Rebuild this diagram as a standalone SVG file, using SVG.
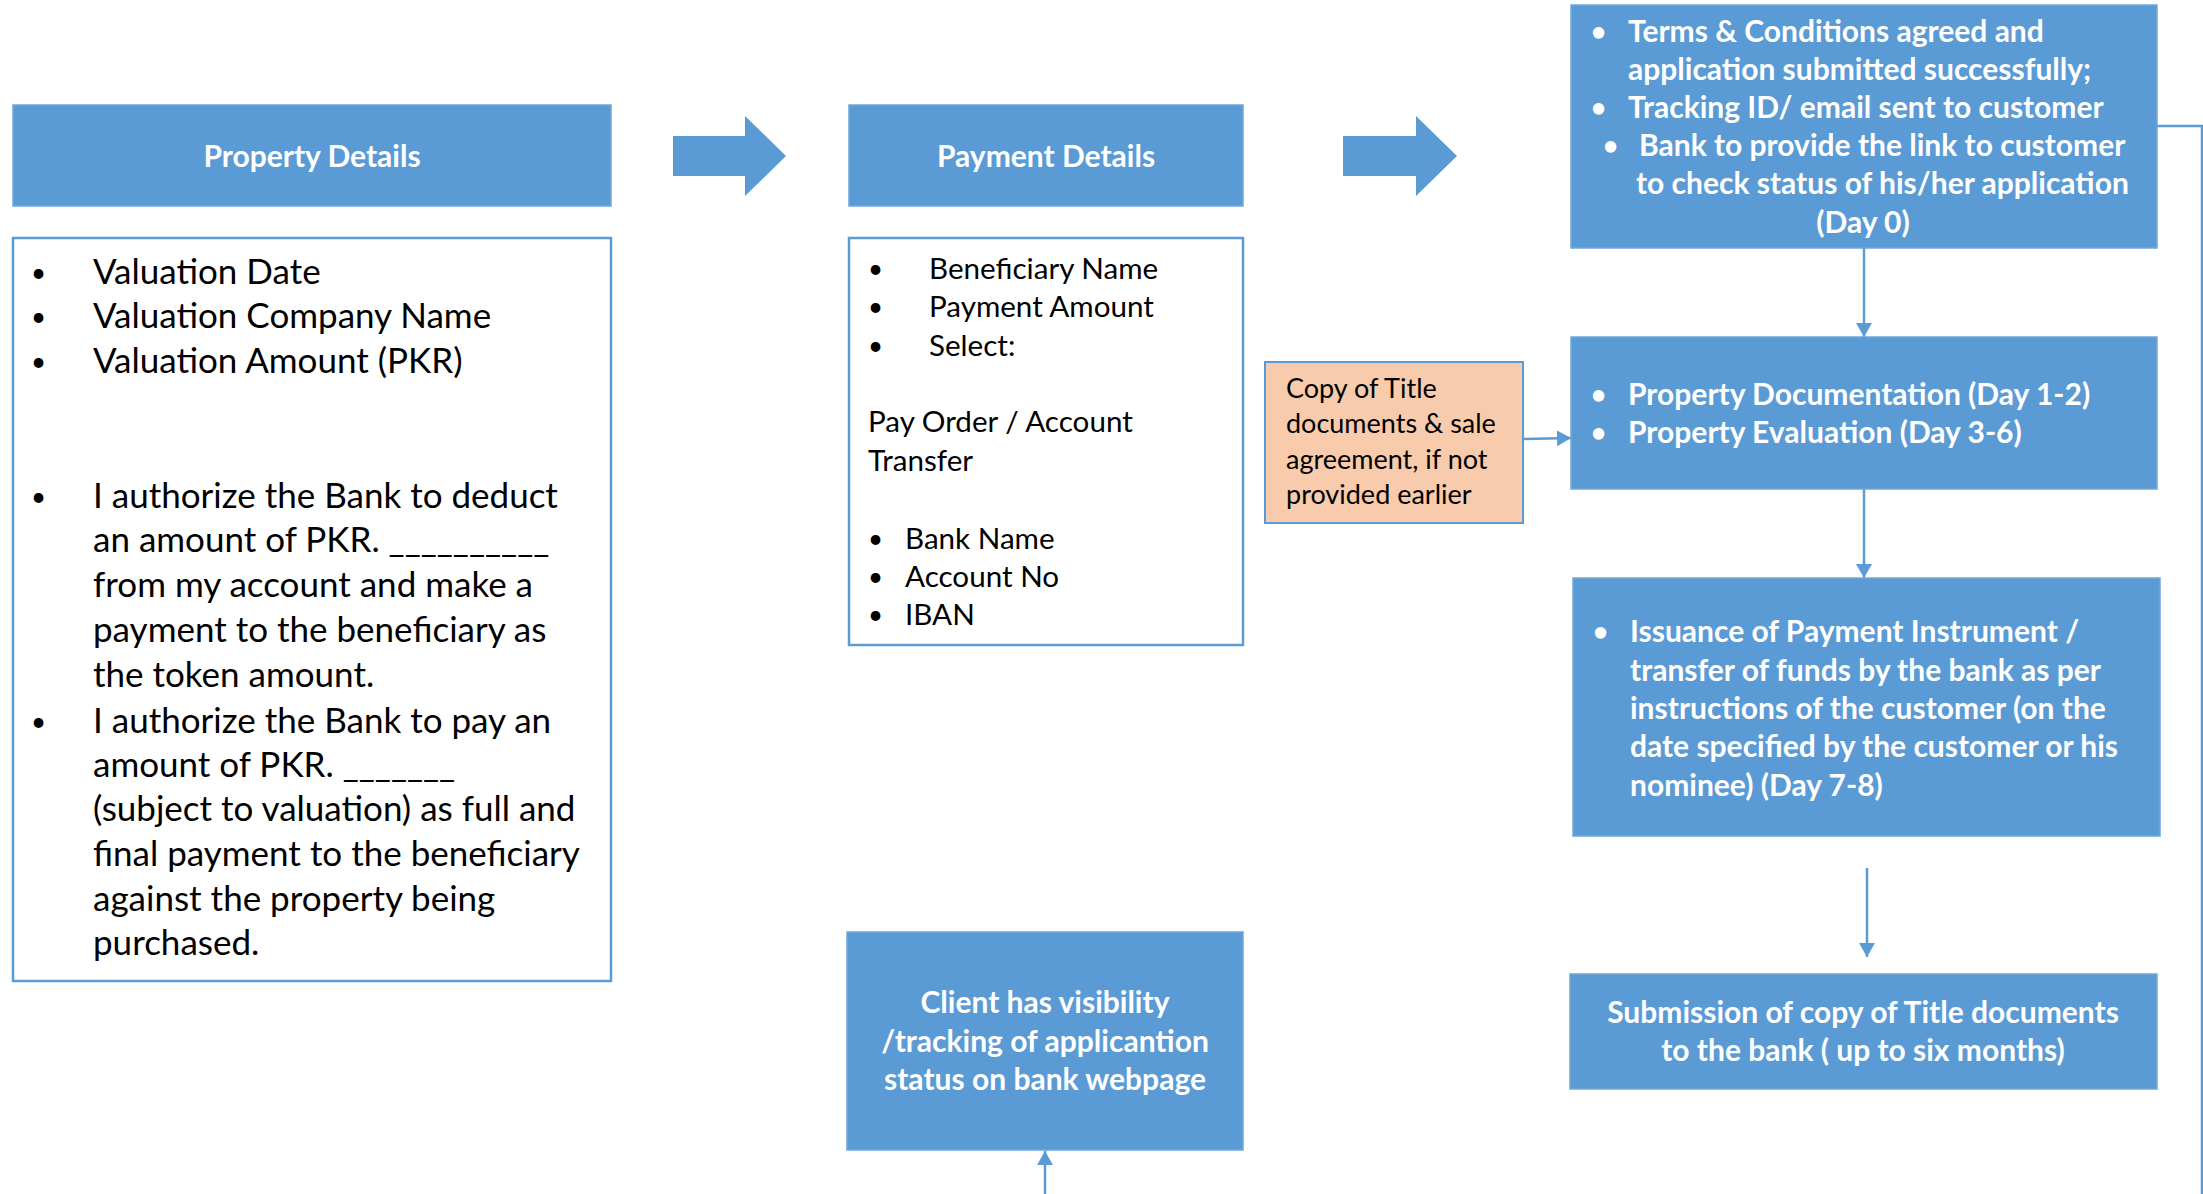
<svg xmlns="http://www.w3.org/2000/svg" width="2203" height="1194" viewBox="0 0 2203 1194">
<defs>
<style>
.blue{fill:#5B9BD5;stroke:#6FA6DA;stroke-width:1.5}
.white{fill:#FFFFFF;stroke:#5B9BD5;stroke-width:2.5}
.orange{fill:#F8CBAD;stroke:#5B9BD5;stroke-width:2}
.bt{font-family:Lato,"Open Sans","Liberation Sans",sans-serif;font-weight:bold;fill:#FFFFFF;font-size:30px}
.pt{font-family:Lato,"Open Sans","Liberation Sans",sans-serif;fill:#000000;font-size:35px}
.yt{font-family:Lato,"Open Sans","Liberation Sans",sans-serif;fill:#000000;font-size:29.6px}
.ot{font-family:Lato,"Open Sans","Liberation Sans",sans-serif;fill:#000000;font-size:27px}
.bu{font-size:26px}
.mid{text-anchor:middle}
.conn{fill:none;stroke:#5B9BD5;stroke-width:2.5}
</style>
<marker id="ah" viewBox="0 0 14 16" refX="14" refY="8" markerWidth="14" markerHeight="16" markerUnits="userSpaceOnUse" orient="auto">
<path d="M0,0 L14,8 L0,16 Z" fill="#5B9BD5"/>
</marker>
</defs>
<rect width="2203" height="1194" fill="#FFFFFF"/>

<g id="connectors">
<polygon id="blockarrow1" points="673,136 745,136 745,116 786,156 745,196 745,176 673,176" fill="#5B9BD5"/>
<polygon id="blockarrow2" points="1343,136 1416,136 1416,116 1457,156 1416,196 1416,176 1343,176" fill="#5B9BD5"/>
<path class="conn" d="M1864,248 V337" marker-end="url(#ah)"/>
<path class="conn" d="M1864,489 V578" marker-end="url(#ah)"/>
<path class="conn" d="M1867,868 V957" marker-end="url(#ah)"/>
<path class="conn" d="M1523,439 L1571,438" marker-end="url(#ah)"/>
<path class="conn" d="M2157,126 H2202 V1240 H1045 V1151" marker-end="url(#ah)"/>
</g>

<g id="property-header">
<rect class="blue" x="13" y="105" width="598" height="101"/>
<text class="bt mid" x="312" y="167">Property Details</text>
</g>

<g id="property-details">
<rect class="white" x="13" y="238" width="598" height="743"/>
<g class="pt">
<text class="bu" x="31" y="282">•</text>
<text class="bu" x="31" y="326">•</text>
<text class="bu" x="31" y="371">•</text>
<text x="93" y="284">Valuation Date</text>
<text x="93" y="328">Valuation Company Name</text>
<text x="93" y="373">Valuation Amount (PKR)</text>
<text class="bu" x="31" y="506">•</text>
<text x="93" y="508">I authorize the Bank to deduct</text>
<text x="93" y="552">an amount of PKR. __________</text>
<text x="93" y="597">from my account and make a</text>
<text x="93" y="642">payment to the beneficiary as</text>
<text x="93" y="687">the token amount.</text>
<text class="bu" x="31" y="731">•</text>
<text x="93" y="733">I authorize the Bank to pay an</text>
<text x="93" y="777">amount of PKR. _______</text>
<text x="93" y="821">(subject to valuation) as full and</text>
<text x="93" y="866">final payment to the beneficiary</text>
<text x="93" y="911">against the property being</text>
<text x="93" y="955">purchased.</text>
</g>
</g>

<g id="payment-header">
<rect class="blue" x="849" y="105" width="394" height="101"/>
<text class="bt mid" x="1046" y="167">Payment Details</text>
</g>

<g id="payment-details">
<rect class="white" x="849" y="238" width="394" height="407"/>
<g class="yt">
<text class="bu" x="868" y="278">•</text>
<text x="929" y="279">Beneficiary Name</text>
<text class="bu" x="868" y="316">•</text>
<text x="929" y="317">Payment Amount</text>
<text class="bu" x="868" y="355">•</text>
<text x="929" y="356">Select:</text>
<text x="868" y="432">Pay Order / Account</text>
<text x="868" y="471">Transfer</text>
<text class="bu" x="868" y="548">•</text>
<text x="905" y="549">Bank Name</text>
<text class="bu" x="868" y="586">•</text>
<text x="905" y="587">Account No</text>
<text class="bu" x="868" y="624">•</text>
<text x="905" y="625">IBAN</text>
</g>
</g>

<g id="title-docs-note">
<rect class="orange" x="1265" y="362" width="258" height="161"/>
<g class="ot">
<text x="1286" y="398">Copy of Title</text>
<text x="1286" y="433">documents &amp; sale</text>
<text x="1286" y="469">agreement, if not</text>
<text x="1286" y="504">provided earlier</text>
</g>
</g>

<g id="application-submitted">
<rect class="blue" x="1571" y="5" width="586" height="243"/>
<g class="bt">
<text class="bu" x="1591" y="41">•</text>
<text x="1628" y="42">Terms &amp; Conditions agreed and</text>
<text x="1628" y="80">application submitted successfully;</text>
<text class="bu" x="1591" y="117">•</text>
<text x="1628" y="118">Tracking ID/ email sent to customer</text>
<text class="bu" x="1603" y="155">•</text>
<text x="1639" y="156">Bank to provide the link to customer</text>
<text x="1636" y="194">to check status of his/her application</text>
<text class="mid" x="1863" y="233">(Day 0)</text>
</g>
</g>

<g id="property-documentation">
<rect class="blue" x="1571" y="337" width="586" height="152"/>
<g class="bt">
<text class="bu" x="1591" y="404">•</text>
<text x="1628" y="405">Property Documentation (Day 1-2)</text>
<text class="bu" x="1591" y="442">•</text>
<text x="1628" y="443">Property Evaluation (Day 3-6)</text>
</g>
</g>

<g id="payment-issuance">
<rect class="blue" x="1573" y="578" width="587" height="258"/>
<g class="bt">
<text class="bu" x="1593" y="641">•</text>
<text x="1630" y="642">Issuance of Payment Instrument /</text>
<text x="1630" y="681">transfer of funds by the bank as per</text>
<text x="1630" y="719">instructions of the customer (on the</text>
<text x="1630" y="757">date specified by the customer or his</text>
<text x="1630" y="796">nominee) (Day 7-8)</text>
</g>
</g>

<g id="title-submission">
<rect class="blue" x="1570" y="974" width="587" height="115"/>
<text class="bt mid" x="1863" y="1023">Submission of copy of Title documents</text>
<text class="bt mid" x="1863" y="1061">to the bank ( up to six months)</text>
</g>

<g id="client-tracking">
<rect class="blue" x="847" y="932" width="396" height="218"/>
<text class="bt mid" x="1045" y="1013">Client has visibility</text>
<text class="bt mid" x="1045" y="1052">/tracking of applicantion</text>
<text class="bt mid" x="1045" y="1090">status on bank webpage</text>
</g>
</svg>
